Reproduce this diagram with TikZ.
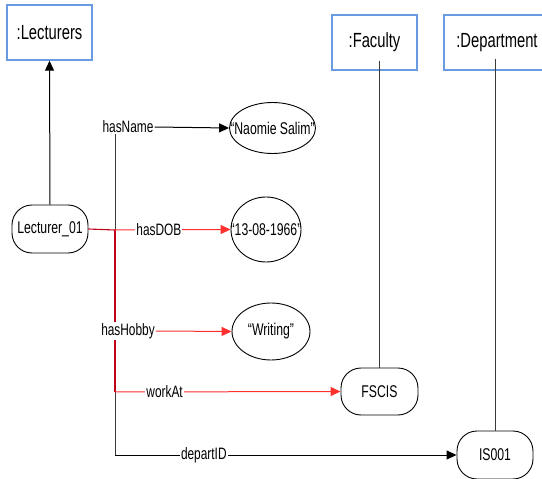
\documentclass[tikz,border=0pt]{standalone}
\usepackage{fontspec}
\setmainfont{Liberation Sans}[FakeStretch=0.72]
\usetikzlibrary{arrows.meta,shapes.geometric}
\definecolor{boxblue}{HTML}{6A9AE0}
\definecolor{trunkred}{HTML}{C00018}
\definecolor{linkred}{HTML}{FF3030}
\definecolor{lifegray}{HTML}{3A3A3A}
\begin{document}
\begin{tikzpicture}[x=1pt,y=-1pt,
  classbox/.style={draw=boxblue,line width=1.4pt,fill=white,inner sep=0pt,
    font=\fontsize{20.5}{22}\selectfont},
  instbox/.style={draw=black,line width=0.9pt,rounded corners=20pt,fill=white,
    inner sep=0pt,minimum width=76pt,minimum height=48pt,
    font=\fontsize{17}{19}\selectfont},
  literal/.style={draw=black,line width=0.9pt,ellipse,fill=white,inner sep=0pt,
    font=\fontsize{17}{19}\selectfont},
  prop/.style={fill=white,inner sep=1pt,font=\fontsize{16.5}{18}\selectfont},
  tip/.style={-{Triangle[length=10pt,width=9pt]}},
  blackline/.style={draw=black,line width=1pt},
  redline/.style={draw=linkred,line width=1pt},
  trunk/.style={draw=trunkred,line width=1.1pt},
  grayline/.style={draw=lifegray,line width=1pt}]
\useasboundingbox (0,0) rectangle (542,479);
\clip (0,0) rectangle (542,479);

% class boxes
\node[classbox,minimum width=85pt,minimum height=55pt] (lect) at (49.5,32.5) {:Lecturers};
\node[classbox,minimum width=85pt,minimum height=55pt] (fac) at (374.5,42.5) {:Faculty};
\node[classbox,minimum width=106pt,minimum height=55pt] (dept) at (497,42.5) {:Department};

% instances
\node[instbox] (l01) at (50,229) {Lecturer\_01};
\node[instbox,minimum width=77pt,minimum height=47pt] (fscis) at (379.5,391.5) {FSCIS};
\node[instbox] (is) at (495,455) {IS001};

% literal values (text may run over the outline, so it takes no width)
\node[literal,minimum width=86pt,minimum height=51pt] (name) at (272.5,128) {\makebox[0pt]{“Naomie Salim”}};
\node[literal,minimum width=70pt,minimum height=65pt] (dob) at (266,229.5) {\makebox[0pt]{“13-08-1966”}};
\node[literal,minimum width=78pt,minimum height=57pt] (hobby) at (271,331.5) {\makebox[0pt]{“Writing”}};

% trunk junctions
\coordinate (jdob) at (115,230);
\coordinate (jwork) at (115,392);
\coordinate (jdep) at (115,455);

% property labels
\node[prop] (pname) at (128,127) {hasName};
\node[prop] (phobby) at (128,331) {hasHobby};

% instance-of arrow
\draw[blackline,tip] (l01.north) -- (lect.south);

% lifelines
\draw[grayline] ([yshift=10pt]fac.south -| fscis.north) -- (fscis.north);
\draw[grayline] ([yshift=12pt]dept.south -| is.north) -- (is.north);

% trunk
\draw[grayline] (pname.south -| jdob) -- (jdob);
\draw[trunk] (l01.east) -- (jdob);
\draw[trunk] (jdob) -- (phobby.north -| jdob);
\draw[trunk] (phobby.south -| jdob) -- (jwork);
\draw[grayline] (jwork) -- (jdep);

% property arrows
\draw[blackline,tip] (pname.east) -- (name.west);
\draw[redline,tip] (jdob) -- node[prop,pos=0.38,text=black] (pdob) {hasDOB} (dob.west);
\draw[redline,tip] (phobby.east) -- (hobby.west);
\draw[redline,tip] (jwork) -- node[prop,pos=0.22,text=black] (pwork) {workAt} (fscis.west);
\draw[blackline,tip] (jdep) -- node[prop,pos=0.26] (pdep) {departID} (is.west);
\end{tikzpicture}
\end{document}
